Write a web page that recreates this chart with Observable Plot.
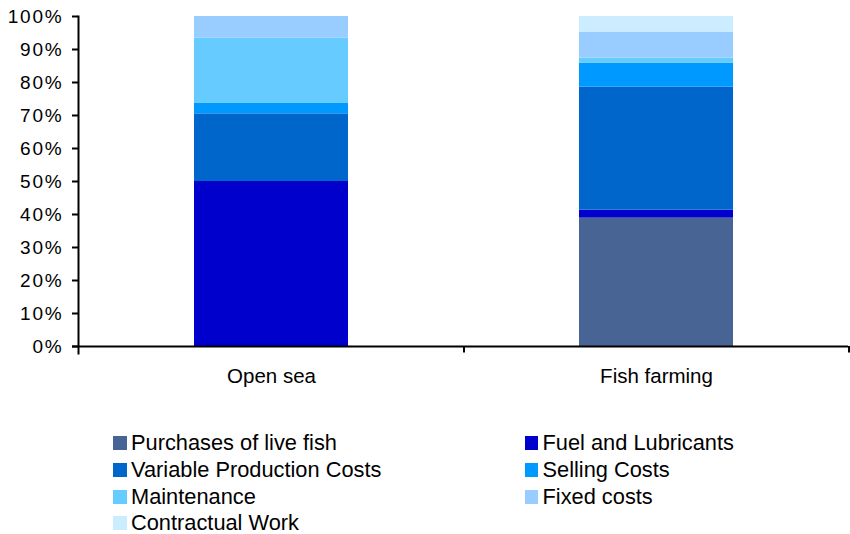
<!DOCTYPE html>
<html>
<head>
<meta charset="utf-8">
<script src="https://cdn.jsdelivr.net/npm/d3@7"></script>
<script src="https://cdn.jsdelivr.net/npm/@observablehq/plot@0.6"></script>
<style>
  body { margin: 0; background: #fff; font-family: "Liberation Sans", Arial, Helvetica, sans-serif; }
  #chart svg { display: block; }
  #legend { position: relative; width: 850px; height: 134px; font-size: 21.8px; color: #000; }
  .item { position: absolute; display: flex; align-items: center; height: 26px; white-space: nowrap; }
  .sw { width: 13.5px; height: 14px; margin-right: 4.5px; flex: none; }
</style>
</head>
<body>
<div id="chart"></div>
<div id="legend"></div>
<script>
const categories = ["Open sea", "Fish farming"];
const series = ["Purchases of live fish", "Fuel and Lubricants", "Variable Production Costs", "Selling Costs", "Maintenance", "Fixed costs", "Contractual Work"];
const colors = ["#486494", "#0000CC", "#0066CC", "#0099FF", "#66CCFF", "#99CCFF", "#CCECFF"];
const openSea = [0, 50, 20.5, 3.3, 19.7, 6.5, 0];
const fishFarming = [38.9, 2.4, 37.3, 7.3, 1.5, 7.9, 4.7];
const yTicks = [0, 10, 20, 30, 40, 50, 60, 70, 80, 90, 100];

const values = [openSea, fishFarming];
const data = [];
series.forEach((s, j) => categories.forEach((c, i) => data.push({category: c, series: s, value: values[i][j]})));

const W = 850, H = 400, mL = 78, mR = 2;
const step = (W - mL - mR) / 2;

const plot = Plot.plot({
  width: W,
  height: H,
  marginLeft: mL,
  marginRight: mR,
  marginTop: 16,
  marginBottom: 54,
  style: {fontFamily: "'Liberation Sans', Arial, Helvetica, sans-serif", fontSize: "18px", color: "#000", background: "#fff"},
  x: {domain: categories, paddingInner: 0.6, paddingOuter: 0.3, label: null},
  y: {domain: [0, 100], label: null},
  color: {domain: series, range: colors},
  marks: [
    Plot.barY(data, {x: "category", y: "value", fill: "series", order: series}),
    Plot.axisY({ticks: yTicks, tickFormat: d => d + "%", tickSize: 6, tickPadding: 9, fontSize: 19, stroke: "#000", strokeWidth: 2, label: null}),
    Plot.axisX({tickSize: 0, tickPadding: 22, fontSize: 20.5, label: null}),
    Plot.frame({anchor: "left", stroke: "#000", strokeWidth: 2, insetBottom: -7}),
    Plot.ruleY([0], {stroke: "#000", strokeWidth: 2, insetLeft: -6}),
    Plot.ruleX(categories, {x: d => d, dx: step / 2, y1: 0, y2: -2, stroke: "#000", strokeWidth: 2})
  ]
});
plot.querySelectorAll('[aria-label="y-axis tick label"] text').forEach(t => t.setAttribute("letter-spacing", "1.8"));
document.getElementById("chart").appendChild(plot);

const legend = document.getElementById("legend");
const colX = [113, 524.5];
const rowY = [43, 70, 96.5, 123];
series.forEach((s, i) => {
  const div = document.createElement("div");
  div.className = "item";
  div.style.left = colX[i % 2] + "px";
  div.style.top = (rowY[Math.floor(i / 2)] - 13) + "px";
  const sw = document.createElement("span");
  sw.className = "sw";
  sw.style.background = colors[i];
  const t = document.createElement("span");
  t.textContent = s;
  div.appendChild(sw);
  div.appendChild(t);
  legend.appendChild(div);
});
</script>
</body>
</html>
